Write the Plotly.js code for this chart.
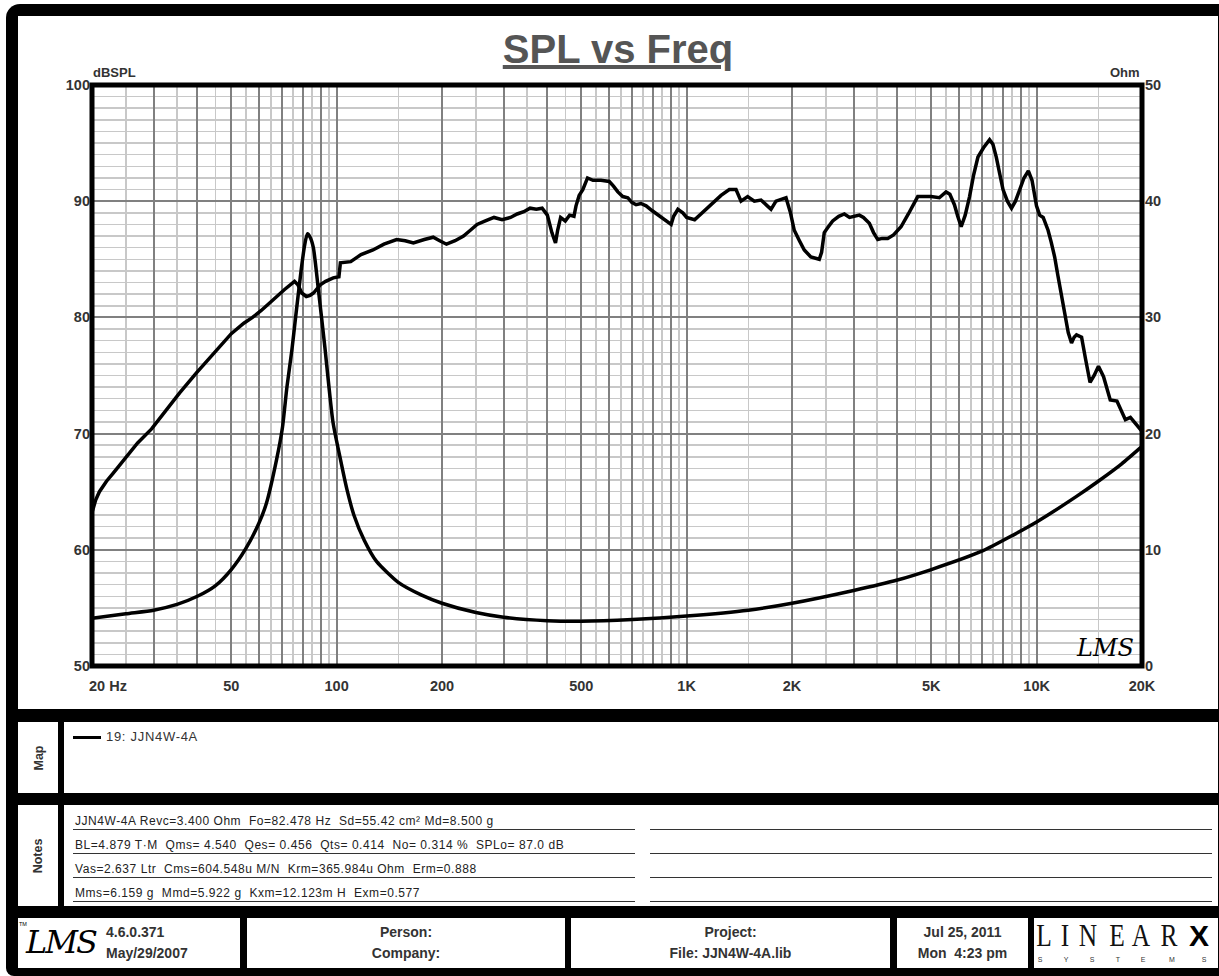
<!DOCTYPE html>
<html><head><meta charset="utf-8">
<script src="https://cdn.plot.ly/plotly-3.0.1.min.js"></script>
<style>
html,body{margin:0;padding:0;}
body{background:#fff;width:1219px;height:976px;overflow:hidden;position:relative;font-family:"Liberation Sans",Arial,sans-serif;}
.abs{position:absolute;}
.panel{position:absolute;background:#fff;}
.vlab{position:absolute;display:flex;align-items:center;justify-content:center;}
.vlab span{transform:rotate(-90deg);font-weight:bold;font-size:12.5px;color:#333;white-space:nowrap;}
.note{position:absolute;left:73px;width:562px;height:17px;border-bottom:1.5px solid #333;font-size:12px;letter-spacing:0.55px;color:#222;white-space:pre;line-height:17px;padding-left:2px;box-sizing:border-box;}
.noteR{position:absolute;left:650px;width:562px;height:17px;border-bottom:1.5px solid #333;box-sizing:border-box;}
.fcell{position:absolute;background:#fff;top:918px;height:50px;}
.ftxt{position:absolute;font-weight:bold;font-size:14px;color:#333;white-space:pre;line-height:16px;}
.ctr{width:100%;text-align:center;left:0;}
.lx{position:absolute;top:0px;font-family:'Liberation Serif','DejaVu Serif',serif;font-size:31px;color:#111;line-height:36px;transform:translateX(-50%) scaleX(0.82);}
.sx{position:absolute;top:37px;font-family:'Liberation Sans',Arial,sans-serif;font-size:7px;color:#333;line-height:9px;transform:translateX(-50%);}
</style></head><body>
<div class="abs" style="left:6px;top:4px;width:1213px;height:972px;background:#000;border-radius:14px 0 0 8px;"></div>
<div class="panel" style="left:18px;top:16px;width:1200px;height:693px;"></div>
<div id="chart" class="abs" style="left:18px;top:16px;width:1200px;height:693px;"></div>

<!-- Map -->
<div class="panel" style="left:18px;top:722px;width:40px;height:71px;"></div>
<div class="vlab" style="left:18px;top:722px;width:40px;height:71px;"><span>Map</span></div>
<div class="panel" style="left:64px;top:722px;width:1154px;height:71px;"></div>
<div class="abs" style="left:73px;top:736px;width:28px;height:3px;background:#000;"></div>
<div class="abs" style="left:106px;top:730px;font-size:13px;letter-spacing:0.7px;color:#333;white-space:pre;line-height:14px;" id="mapText"></div>

<!-- Notes -->
<div class="panel" style="left:18px;top:805px;width:40px;height:101px;"></div>
<div class="vlab" style="left:18px;top:805px;width:40px;height:101px;"><span>Notes</span></div>
<div class="panel" style="left:64px;top:805px;width:1154px;height:101px;"></div>
<div id="notes"></div>

<!-- Footer -->
<div class="fcell" style="left:18px;width:222px;"></div>
<div class="abs" style="left:26px;top:920px;font-family:'DejaVu Serif',serif;font-style:italic;font-size:32px;color:#000;line-height:44px;letter-spacing:-2px;">LMS</div>
<div class="abs" style="left:19px;top:921px;font-size:5.5px;color:#000;line-height:7px;">TM</div>
<div class="ftxt" style="left:106px;top:924px;" id="ver"></div>
<div class="ftxt" style="left:106px;top:945px;" id="verDate"></div>

<div class="fcell" style="left:247px;width:318px;"><div class="ftxt ctr" style="top:6px;" id="person"></div><div class="ftxt ctr" style="top:27px;" id="company"></div></div>
<div class="fcell" style="left:571px;width:319px;"><div class="ftxt ctr" style="top:6px;" id="project"></div><div class="ftxt ctr" style="top:27px;" id="file"></div></div>
<div class="fcell" style="left:897px;width:131px;"><div class="ftxt ctr" style="top:6px;" id="date1"></div><div class="ftxt ctr" style="top:27px;" id="date2"></div></div>
<div class="fcell" style="left:1034px;width:184px;" id="logo"></div>

<script>
// ---- data ----
const splFreq = [20,20.5,21,22,23,24.8,27,29.6,32.5,35.6,39.7,42.5,46.1,50,54.3,57.5,60.9,64,67.4,71,75.8,77.5,79.5,81.9,84,85.9,89.8,93,97.8,101.5,102.5,109.7,117.4,127,136.5,148.4,157,165.7,178,188.8,197,206,218,230.4,241,251.9,266,281.6,297,313.9,328,342.6,357,372,386.5,400,412,422,428,436.5,450,463,476.5,483,493,505,521,540,569,601,618,636,657,679,697,717,740,766,796,828,865,903,918,944,975,1000,1054,1110,1176,1254,1324,1384,1430,1494,1561,1631,1700,1742,1800,1923,1980,2030,2100,2168,2264,2393,2430,2473,2540,2614,2720,2822,2920,3015,3115,3200,3327,3420,3516,3620,3754,3900,4098,4300,4574,4800,4993,5271,5510,5650,5822,5950,6087,6250,6432,6600,6797,7050,7338,7500,7668,7850,8016,8250,8475,8700,8957,9200,9469,9700,9990,10200,10440,10780,11000,11260,11500,11770,12050,12310,12580,12800,13000,13440,13800,14210,14600,15020,15530,16230,16960,17400,17930,18530,19160,20000];
const splDb = [63.2,64.3,65.0,65.9,66.6,67.8,69.2,70.4,72.0,73.5,75.2,76.2,77.5,78.6,79.5,80.0,80.6,81.2,81.8,82.4,83.1,82.8,82.1,81.8,81.9,82.1,82.8,83.1,83.4,83.5,84.7,84.8,85.4,85.8,86.3,86.7,86.6,86.4,86.7,86.9,86.6,86.3,86.6,87.0,87.5,88.0,88.3,88.6,88.4,88.6,88.9,89.1,89.4,89.3,89.4,88.8,87.3,86.4,87.5,88.6,88.3,88.8,88.7,89.6,90.5,91.0,92.0,91.8,91.8,91.7,91.3,90.8,90.4,90.3,89.9,89.7,89.8,89.6,89.2,88.8,88.4,88.0,88.7,89.3,89.0,88.6,88.4,89.0,89.7,90.5,91.0,91.0,90.0,90.4,90.0,90.1,89.6,89.3,90.0,90.3,89.0,87.5,86.6,85.8,85.2,85.0,85.6,87.3,87.8,88.3,88.7,88.9,88.6,88.7,88.8,88.6,88.1,87.3,86.7,86.8,86.8,87.1,87.8,88.9,90.4,90.4,90.4,90.3,90.8,90.6,89.7,88.7,87.8,88.8,90.4,92.2,93.8,94.6,95.3,94.9,93.8,92.3,91.0,90.0,89.4,90.0,91.0,92.0,92.6,91.8,89.6,88.8,88.6,87.5,86.5,85.2,83.6,81.8,80.2,78.7,77.8,78.3,78.5,78.3,76.4,74.4,75.0,75.8,74.9,72.9,72.8,72.0,71.2,71.4,70.9,70.2];
const impFreq = [20,25,30,35,40,45,50,55,60,63,67.4,70,72.1,74.5,76.4,79.2,81,82.5,84,85.8,88.6,92.5,97.6,102.5,107,112,120,130,150,175,200,250,300,400,500,700,1000,1500,2000,3000,4000,5000,7000,10000,13000,15000,17500,20000];
const impOhm = [4.1,4.5,4.8,5.3,6.0,6.9,8.3,10.1,12.3,14.0,17.8,20.5,24.0,27.2,30.1,34.1,36.2,37.2,36.9,36.0,32.5,27.5,21.0,17.8,15.2,13.0,10.8,9.0,7.2,6.1,5.4,4.6,4.2,3.9,3.85,4.0,4.3,4.8,5.4,6.5,7.4,8.3,9.9,12.4,14.6,15.9,17.4,18.9];

const labelVals = [20,50,100,200,500,1000,2000,5000,10000,20000];
const labelText = ['20 Hz','50','100','200','500','1K','2K','5K','10K','20K'];
const majorGrid = [20,30,40,50,60,70,80,90,100,200,300,400,500,600,700,800,900,1000,2000,3000,4000,5000,6000,7000,8000,9000,10000,20000];
const minorGrid = [25,35,45,55,65,75,85,95,150,250,350,450,550,650,750,850,950,1500,2500,3500,4500,5500,6500,7500,8500,9500,15000];
const leftTicks = [50,60,70,80,90,100];
const rightTicks = [0,10,20,30,40,50];

const chartTitle = 'SPL vs Freq';
const leftUnit = 'dBSPL';
const rightUnit = 'Ohm';
const mapEntry = '19: JJN4W-4A';
const notesLines = [
  'JJN4W-4A Revc=3.400 Ohm  Fo=82.478 Hz  Sd=55.42 cm\u00B2 Md=8.500 g',
  'BL=4.879 T\u00B7M  Qms= 4.540  Qes= 0.456  Qts= 0.414  No= 0.314 %  SPLo= 87.0 dB',
  'Vas=2.637 Ltr  Cms=604.548u M/N  Krm=365.984u Ohm  Erm=0.888',
  'Mms=6.159 g  Mmd=5.922 g  Kxm=12.123m H  Exm=0.577'
];
const footerText = {ver:'4.6.0.371', verDate:'May/29/2007', person:'Person:', company:'Company:', project:'Project:', file:'File: JJN4W-4A.lib', date1:'Jul 25, 2011', date2:'Mon  4:23 pm'};
const logoLetters = ['L','I','N','E','A','R','X'];
const logoSub = ['S','Y','S','T','E','M','S'];

// ---- html text ----
document.getElementById('mapText').textContent = mapEntry;
for (const k in footerText) document.getElementById(k).textContent = footerText[k];
const notesDiv = document.getElementById('notes');
const noteTops = [813, 837, 861, 885];
notesLines.forEach((t,i)=>{
  const d = document.createElement('div'); d.className='note'; d.style.top = noteTops[i]+'px'; d.textContent = t; notesDiv.appendChild(d);
  const r = document.createElement('div'); r.className='noteR'; r.style.top = noteTops[i]+'px'; notesDiv.appendChild(r);
});
// logo letters (positions inside the 184px cell)
const logo = document.getElementById('logo');
const letterX = [10, 31, 54, 83, 107, 135, 165];
const subX = [6, 32, 58, 84, 109, 138, 170];
logoLetters.forEach((c,i)=>{
  const s = document.createElement('div'); s.className='lx'; s.style.left = letterX[i]+'px'; s.textContent = c;
  if (c === 'X') { s.style.fontFamily = "'Liberation Sans',Arial,sans-serif"; s.style.fontWeight = '900'; s.style.fontSize = '30px'; s.style.transform = 'translateX(-50%)'; s.style.color = '#000'; }
  logo.appendChild(s);
});
logoSub.forEach((c,i)=>{
  const s = document.createElement('div'); s.className='sx'; s.style.left = subX[i]+'px'; s.textContent = c; logo.appendChild(s);
});

// ---- chart ----
const FONT = 'Liberation Sans, Arial, sans-serif';
const tickFont = {family: FONT, size: 14.5, color: '#333', weight: 'bold'};
const tickText = majorGrid.map(v => { const i = labelVals.indexOf(v); return (i > 0) ? labelText[i] : ''; });

const traces = [
  {x: splFreq, y: splDb, type: 'scatter', mode: 'lines', yaxis: 'y', line: {color: '#000', width: 3.5}, hoverinfo: 'skip'},
  {x: impFreq, y: impOhm, type: 'scatter', mode: 'lines', yaxis: 'y2', line: {color: '#000', width: 3.5, shape: 'spline', smoothing: 0.6}, hoverinfo: 'skip'}
];

const layout = {
  width: 1200, height: 693,
  margin: {l: 74, r: 76, t: 69, b: 43, pad: 0},
  paper_bgcolor: '#fff', plot_bgcolor: '#fff',
  showlegend: false,
  title: {text: '<b><u>' + chartTitle + '</u></b>', font: {family: FONT, size: 40, color: '#555'},
          x: 0.5, xref: 'container', xanchor: 'center', y: 1 - 33/693, yref: 'container', yanchor: 'middle'},
  xaxis: {type: 'log', range: [Math.log10(20), Math.log10(20000)], tickmode: 'array', tickvals: majorGrid, ticktext: tickText,
          ticks: '', showline: false, zeroline: false, showgrid: true, gridcolor: '#808080', gridwidth: 2,
          tickfont: tickFont, ticklabelstandoff: 9, fixedrange: true,
          minor: {tickmode: 'array', tickvals: minorGrid, showgrid: true, gridcolor: '#c8c8c8', gridwidth: 1.5, ticks: ''}},
  yaxis: {range: [50, 100], tickmode: 'array', tickvals: leftTicks, ticks: '', showline: false, zeroline: false,
          showgrid: true, gridcolor: '#808080', gridwidth: 2, tickfont: tickFont, ticklabelstandoff: 1, fixedrange: true,
          minor: {tick0: 50, dtick: 1, showgrid: true, gridcolor: '#c8c8c8', gridwidth: 1.5, ticks: ''}},
  yaxis2: {range: [0, 50], overlaying: 'y', side: 'right', tickmode: 'array', tickvals: rightTicks, ticks: '',
           showline: false, zeroline: false, showgrid: false, tickfont: tickFont, ticklabelstandoff: 2, fixedrange: true},
  shapes: [{type: 'rect', xref: 'paper', yref: 'paper', x0: 0, x1: 1, y0: 0, y1: 1, line: {color: '#000', width: 5}, layer: 'above'}],
  annotations: [
    {x: Math.log10(labelVals[0]), xref: 'x', y: 0, yref: 'paper', xanchor: 'left', yanchor: 'middle', xshift: -5, yshift: -20,
     text: '<b>' + labelText[0] + '</b>', showarrow: false, font: tickFont},
    {x: 0, xref: 'paper', y: 1, yref: 'paper', xanchor: 'left', yanchor: 'middle', yshift: 13, xshift: -1,
     text: '<b>' + leftUnit + '</b>', showarrow: false, font: {family: FONT, size: 13, color: '#333'}},
    {x: 1, xref: 'paper', y: 1, yref: 'paper', xanchor: 'right', yanchor: 'middle', yshift: 13, xshift: 0,
     text: '<b>' + rightUnit + '</b>', showarrow: false, font: {family: FONT, size: 13, color: '#333'}},
    {x: 1, xref: 'paper', y: 0, yref: 'paper', xanchor: 'right', yanchor: 'bottom', xshift: -6, yshift: 2,
     text: '<i>LMS</i>', showarrow: false, font: {family: 'DejaVu Serif, serif', size: 24, color: '#000'}}
  ]
};

Plotly.newPlot('chart', traces, layout, {displayModeBar: false, staticPlot: true});
</script>
</body></html>
